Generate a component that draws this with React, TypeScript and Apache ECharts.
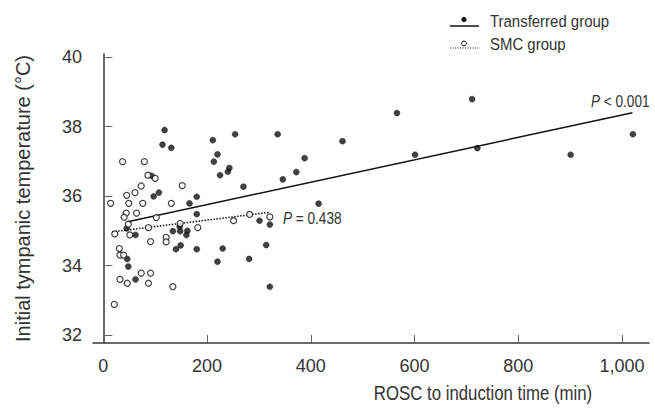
import React, { useEffect, useRef } from "react";
import * as echarts from "echarts";

const FONT = "'Liberation Sans Narrow', 'Arial Narrow', 'Liberation Sans', Arial, sans-serif";

// Transferred group (filled circles): [ROSC to induction time (min), temperature (°C)]
const transferredPoints: number[][] = [
  [118, 37.9], [114, 37.48], [131, 37.39], [211, 37.61], [254, 37.78], [336, 37.78],
  [220, 37.2], [213, 36.99], [243, 36.81], [240, 36.7], [225, 36.6], [346, 36.48],
  [270, 36.27], [93, 36.58], [97, 35.99], [107, 36.1], [180, 35.98], [166, 35.79],
  [180, 35.48], [301, 35.29], [321, 35.18], [45, 35.07], [147, 35.12], [148, 34.99],
  [134, 34.99], [162, 35.0], [160, 34.88], [62, 34.88], [140, 34.47], [149, 34.58],
  [180, 34.47], [230, 34.49], [314, 34.59], [46, 34.19], [220, 34.11], [281, 34.19],
  [48, 33.97], [62, 33.6], [321, 33.39], [372, 36.69], [388, 37.09], [415, 35.78],
  [461, 37.58], [566, 38.39], [601, 37.19], [711, 38.79], [721, 37.38], [901, 37.19],
  [1021, 37.78],
];

// SMC group (open circles)
const smcPoints: number[][] = [
  [37, 36.99], [79, 36.99], [86, 36.6], [100, 36.51], [73, 36.29], [152, 36.3],
  [45, 36.02], [61, 36.1], [14, 35.79], [49, 35.79], [76, 35.79], [131, 35.79],
  [44, 35.51], [64, 35.51], [40, 35.39], [102, 35.38], [282, 35.47], [321, 35.4],
  [251, 35.29], [48, 35.19], [148, 35.21], [87, 35.09], [182, 35.09], [22, 34.91],
  [51, 34.88], [91, 34.69], [121, 34.81], [121, 34.68], [31, 34.49], [32, 34.3],
  [39, 34.3], [73, 33.78], [91, 33.78], [32, 33.6], [46, 33.49], [87, 33.49],
  [134, 33.39], [21, 32.88],
];

// Regression line end points
const transferredFit: number[][] = [[47, 35.26], [1020, 38.4]];
const smcFit: number[][] = [[17, 34.97], [320, 35.53]];

const xTicks = [0, 200, 400, 600, 800, 1000];
const yTicks = [32, 34, 36, 38, 40];

const legendNames = ["Transferred group", "SMC group"];
const pTransferred = "< 0.001";
const pSmc = "= 0.438";

export default function App() {
  const ref = useRef<HTMLDivElement>(null);

  useEffect(() => {
    if (!ref.current) return;
    const chart = echarts.init(ref.current, null, { renderer: "svg" });
    const textColor = "#333";
    const axisColor = "#3a3a3a";

    const pText = (x: number, y: number, rest: string) => ({
      type: "text",
      x,
      y,
      scaleX: 0.85,
      style: {
        text: "{i|P} " + rest,
        rich: { i: { fontStyle: "italic", fontFamily: FONT, fontSize: 16, fill: textColor } },
        fontFamily: FONT,
        fontSize: 16,
        fill: textColor,
        verticalAlign: "middle",
      },
    });

    chart.setOption({
      animation: false,
      backgroundColor: "#fff",
      grid: { left: 93, right: 6, top: 54, bottom: 67, containLabel: false },
      xAxis: {
        type: "value",
        min: -20,
        max: 1052,
        axisLine: { show: true, lineStyle: { color: axisColor, width: 1.5 } },
        axisTick: {
          show: true,
          inside: true,
          length: 8,
          customValues: xTicks,
          lineStyle: { color: "#666", width: 1 },
        },
        axisLabel: {
          customValues: xTicks,
          margin: 14,
          color: textColor,
          fontFamily: FONT,
          fontSize: 18,
          formatter: (v: number) => v.toLocaleString("en-US"),
        },
        splitLine: { show: false },
      },
      yAxis: {
        type: "value",
        min: 31.77,
        max: 40.09,
        name: "Initial tympanic temperature (°C)",
        nameLocation: "middle",
        nameGap: 60,
        nameTextStyle: { color: textColor, fontFamily: FONT, fontSize: 20 },
        axisLine: { show: true, lineStyle: { color: axisColor, width: 1.5 } },
        axisTick: {
          show: true,
          inside: true,
          length: 9,
          customValues: yTicks,
          lineStyle: { color: "#666", width: 1 },
        },
        axisLabel: {
          customValues: yTicks,
          margin: 11,
          color: textColor,
          fontFamily: FONT,
          fontSize: 18,
        },
        splitLine: { show: false },
      },
      series: [
        {
          name: legendNames[0] + " fit",
          type: "line",
          data: transferredFit,
          symbol: "none",
          lineStyle: { color: "#111", width: 1.5, type: "solid" },
          z: 1,
        },
        {
          name: legendNames[1] + " fit",
          type: "line",
          data: smcFit,
          symbol: "none",
          lineStyle: { color: "#111", width: 1.5, type: "dotted" },
          z: 1,
        },
        {
          name: legendNames[0],
          type: "scatter",
          data: transferredPoints,
          symbol: "circle",
          symbolSize: 6,
          itemStyle: { color: "#111", borderColor: "#111", borderWidth: 0.5 },
          z: 3,
        },
        {
          name: legendNames[1],
          type: "scatter",
          data: smcPoints,
          symbol: "circle",
          symbolSize: 6,
          itemStyle: { color: "#fff", borderColor: "#111", borderWidth: 1.2 },
          z: 3,
        },
      ],
      graphic: [
        // Legend
        { type: "line", shape: { x1: 450, y1: 26, x2: 479, y2: 26 }, style: { stroke: "#111", lineWidth: 1.5 } },
        { type: "circle", shape: { cx: 464, cy: 19.5, r: 2.6 }, style: { fill: "#111" } },
        {
          type: "text",
          x: 490,
          y: 21,
          scaleX: 0.88,
          style: { text: legendNames[0], fontFamily: FONT, fontSize: 17, fill: textColor, verticalAlign: "middle" },
        },
        { type: "line", shape: { x1: 450, y1: 48, x2: 479, y2: 48 }, style: { stroke: "#111", lineWidth: 1.2, lineDash: [1, 1.5] } },
        { type: "circle", shape: { cx: 464, cy: 43.5, r: 2.4 }, style: { fill: "#fff", stroke: "#111", lineWidth: 1 } },
        {
          type: "text",
          x: 490,
          y: 44,
          scaleX: 0.88,
          style: { text: legendNames[1], fontFamily: FONT, fontSize: 17, fill: textColor, verticalAlign: "middle" },
        },
        // P values
        pText(591, 102, pTransferred),
        pText(283, 219, pSmc),
        // X axis title
        {
          type: "text",
          x: 483,
          y: 393,
          scaleX: 0.84,
          style: {
            text: "ROSC to induction time (min)",
            fontFamily: FONT,
            fontSize: 20,
            fill: textColor,
            align: "center",
            verticalAlign: "middle",
          },
        },
      ],
    });

    return () => {
      chart.dispose();
    };
  }, []);

  return (
    <div
      ref={ref}
      style={{ position: "fixed", left: 0, top: 0, width: 655, height: 410, background: "#fff" }}
    />
  );
}
